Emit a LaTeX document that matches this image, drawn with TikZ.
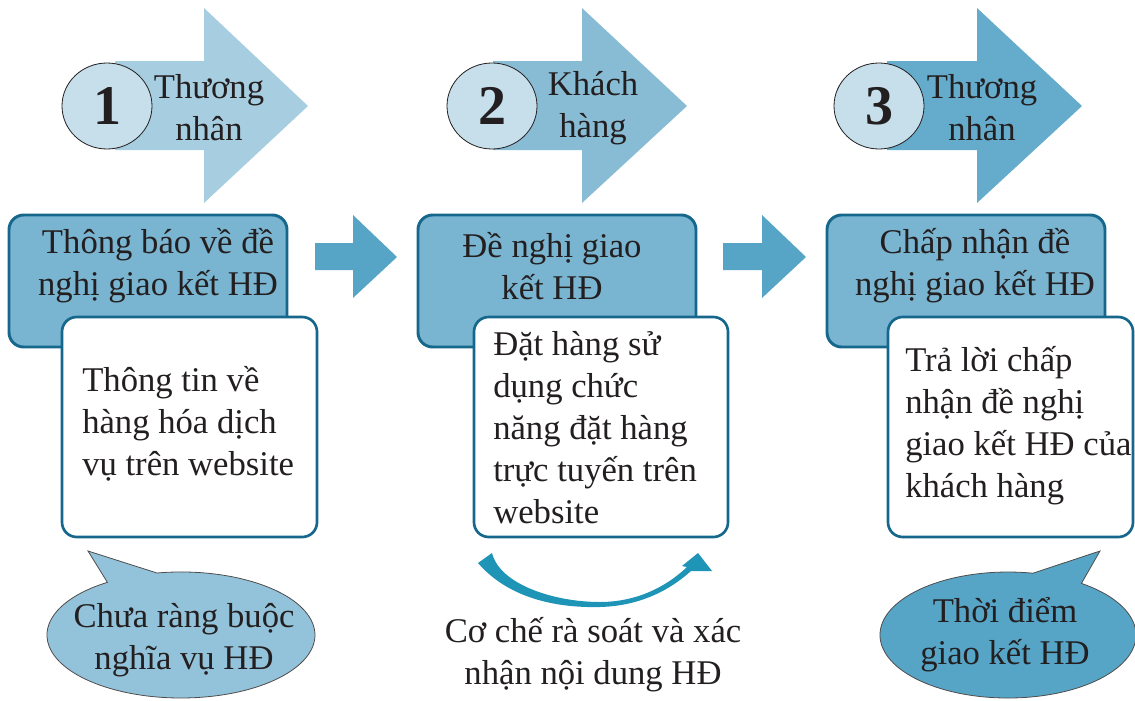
\documentclass[tikz,border=0pt]{standalone}
\usepackage{fontspec}
\setmainfont{Liberation Serif}
\usetikzlibrary{shapes.geometric}
\definecolor{arrA}{HTML}{A7CEE0}
\definecolor{arrB}{HTML}{88BCD5}
\definecolor{arrC}{HTML}{65ACCC}
\definecolor{circ}{HTML}{C6DFEB}
\definecolor{boxfill}{HTML}{79B4D0}
\definecolor{boxline}{HTML}{16678C}
\definecolor{midarr}{HTML}{56A5C7}
\definecolor{bubA}{HTML}{93C3DA}
\definecolor{bubC}{HTML}{56A5C7}
\definecolor{curv}{HTML}{1E94B6}
\definecolor{ink}{HTML}{231F20}
\tikzset{
  numcirc/.style={ellipse, draw=ink, line width=0.6pt, fill=circ, minimum width=67.5pt, minimum height=64.5pt, inner sep=0pt, text=ink, font=\fontsize{42}{42}\selectfont\bfseries},
  txt/.style={text=ink, inner sep=0pt, font=\fontsize{26}{31.5}\selectfont},
  ctxt/.style={txt, align=center},
  ltxt/.style={txt, align=left, anchor=west},
  bluebox/.style={draw=boxline, fill=boxfill, line width=2.2pt, rounded corners=11pt},
  whitebox/.style={draw=boxline, fill=white, line width=2pt, rounded corners=11pt},
  bubble/.style={draw=ink!80, line width=0.6pt},
}
\begin{document}
\begin{tikzpicture}[x=0.75pt,y=-0.75pt]
\useasboundingbox (0,0) rectangle (1135,700);
% top arrows
\fill[arrA] (115,61) -- (204,61) -- (204,8) -- (308,106) -- (204,203) -- (204,150) -- (115,150) -- cycle;
\fill[arrB] (493,61) -- (582,61) -- (582,8) -- (687,106) -- (582,203) -- (582,150) -- (493,150) -- cycle;
\fill[arrC] (887,61) -- (977,61) -- (977,8) -- (1082,106) -- (977,203) -- (977,150) -- (887,150) -- cycle;
\node[numcirc] (c1) at (107,106) {1};
\node[numcirc] (c2) at (492,106) {2};
\node[numcirc] (c3) at (879,106) {3};
\node[ctxt] (h1) at (209,108) {Thương\\nhân};
\node[ctxt] (h2) at (593,108) {Khách\\hàng};
\node[ctxt] (h3) at (982,108) {Thương\\nhân};
% blue boxes
\draw[bluebox] (9,215) rectangle (287,347);
\draw[bluebox] (418,215) rectangle (696,347);
\draw[bluebox] (827,215) rectangle (1105,347);
\node[ctxt] (t1) at (158,266) {Thông báo về đề\\nghị giao kết HĐ};
\node[ctxt] (t2) at (552,266) {Đề nghị giao\\kết HĐ};
\node[ctxt] (t3) at (975,266) {Chấp nhận đề\\nghị giao kết HĐ};
% white boxes
\draw[whitebox] (62,317) rectangle (317,537);
\draw[whitebox] (474,317) rectangle (728,537);
\draw[whitebox] (888,317) rectangle (1133,537);
\node[ltxt] (w1) at (82,424) {Thông tin về\\hàng hóa dịch\\vụ trên website};
\node[ltxt] (w2) at (493,428) {Đặt hàng sử\\dụng chức\\năng đặt hàng\\trực tuyến trên\\website};
\node[ltxt] (w3) at (905,426) {Trả lời chấp\\nhận đề nghị\\giao kết HĐ của\\khách hàng};
% middle arrows
\fill[midarr] (315,243) -- (353,243) -- (353,215) -- (397,257) -- (353,298) -- (353,270) -- (315,270) -- cycle;
\fill[midarr] (723,243) -- (762,243) -- (762,215) -- (806,257) -- (762,298) -- (762,270) -- (723,270) -- cycle;
% bubbles
\filldraw[bubble, fill=bubA] (88,551) -- (157,573) arc[start angle=259.7, end angle=596.7, x radius=134, y radius=63] -- cycle;
\node[ctxt] (b1) at (184,640) {Chưa ràng buộc\\nghĩa vụ HĐ};
\filldraw[bubble, fill=bubC] (1100,551) -- (1081.4,583.4) arc[start angle=305, end angle=641.2, x radius=128, y radius=63] -- cycle;
\node[ctxt] (b3) at (1005,635) {Thời điểm\\giao kết HĐ};
% curved arrow
\fill[curv] (478,563) .. controls (510,600) and (560,608) .. (600,607) .. controls (640,606) and (670,590) .. (691,571) -- (712,571) -- (698,553) -- (682,566) -- (687,567) .. controls (665,588) and (635,602) .. (600,602) .. controls (555,602) and (500,585) .. (492,553) -- cycle;
\node[ctxt] (cap) at (593,655) {Cơ chế rà soát và xác\\nhận nội dung HĐ};
\end{tikzpicture}
\end{document}
